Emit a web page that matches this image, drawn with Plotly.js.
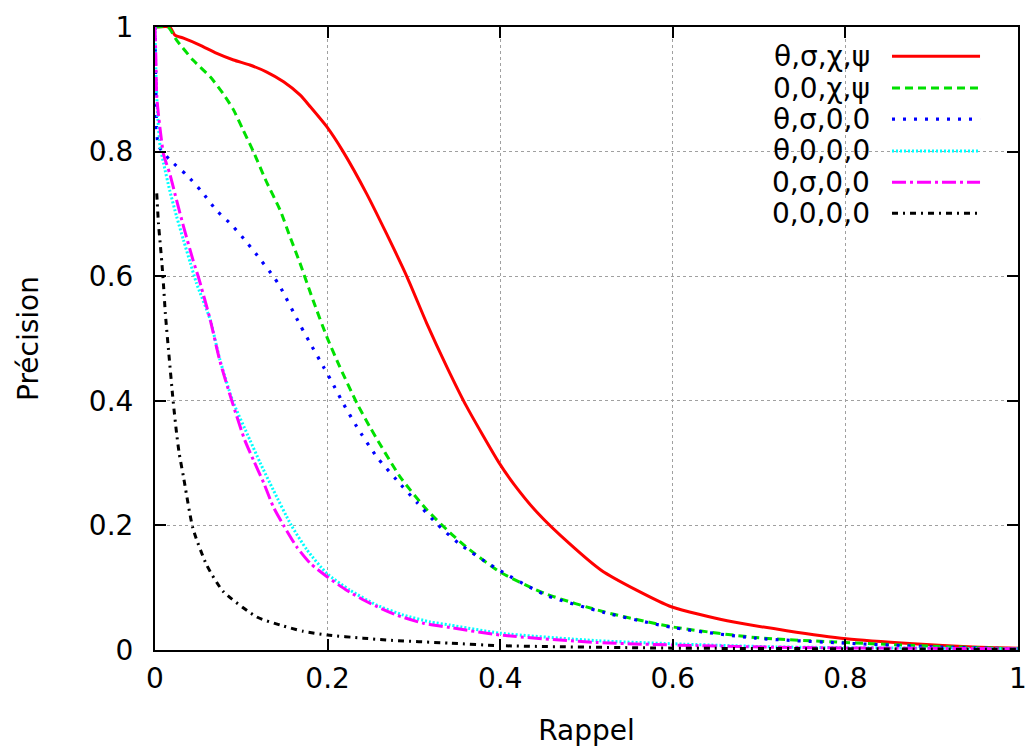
<!DOCTYPE html>
<html>
<head>
<meta charset="utf-8">
<script src="https://cdn.plot.ly/plotly-3.0.1.min.js"></script>
<style>html,body{margin:0;padding:0;background:#fff;}#chart{width:1035px;height:752px;}</style>
</head>
<body>
<div id="chart"></div>
<script>
// Series names (legend labels)
const seriesNames = ["θ,σ,χ,ψ", "0,0,χ,ψ", "θ,σ,0,0", "θ,0,0,0", "0,σ,0,0", "0,0,0,0"];

// θ,σ,χ,ψ (red, solid)
const redX = [0, 0.017, 0.023, 0.033, 0.052, 0.071, 0.091, 0.11, 0.129, 0.149, 0.168, 0.18, 0.199, 0.218, 0.245, 0.268, 0.292, 0.315, 0.338, 0.361, 0.398, 0.416, 0.444, 0.48, 0.517, 0.558, 0.599, 0.663, 0.732, 0.801, 0.879, 0.948, 1.0];
const redY = [1, 1, 0.987, 0.982, 0.971, 0.958, 0.947, 0.939, 0.928, 0.912, 0.891, 0.872, 0.84, 0.800, 0.733, 0.669, 0.599, 0.524, 0.455, 0.391, 0.302, 0.266, 0.219, 0.171, 0.128, 0.096, 0.069, 0.047, 0.031, 0.018, 0.01, 0.005, 0.003];

// 0,0,χ,ψ (green, dashed)
const greenX = [0, 0.015, 0.025, 0.044, 0.064, 0.079, 0.091, 0.102, 0.114, 0.129, 0.145, 0.156, 0.168, 0.183, 0.199, 0.214, 0.234, 0.249, 0.284, 0.315, 0.342, 0.361, 0.4, 0.453, 0.521, 0.6, 0.696, 0.8, 0.902, 1.0];
const greenY = [1, 1, 0.979, 0.947, 0.92, 0.893, 0.867, 0.835, 0.8, 0.752, 0.706, 0.665, 0.621, 0.562, 0.503, 0.455, 0.396, 0.358, 0.278, 0.225, 0.188, 0.165, 0.125, 0.09, 0.061, 0.037, 0.02, 0.012, 0.006, 0.002];

// θ,σ,0,0 (blue, dotted)
const blueX = [0, 0.001, 0.004, 0.017, 0.037, 0.054, 0.071, 0.089, 0.106, 0.122, 0.137, 0.145, 0.168, 0.182, 0.195, 0.207, 0.218, 0.234, 0.257, 0.28, 0.304, 0.327, 0.352, 0.393, 0.453, 0.521, 0.6, 0.696, 0.8, 0.902, 1.0];
const blueY = [1, 0.9, 0.81, 0.787, 0.762, 0.736, 0.706, 0.682, 0.655, 0.627, 0.6, 0.583, 0.522, 0.487, 0.455, 0.425, 0.396, 0.358, 0.31, 0.273, 0.236, 0.202, 0.171, 0.133, 0.088, 0.06, 0.036, 0.019, 0.011, 0.005, 0.002];

// θ,0,0,0 (cyan, fine dots)
const cyanX = [0, 0.001, 0.003, 0.006, 0.010, 0.017, 0.025, 0.033, 0.041, 0.048, 0.064, 0.075, 0.090, 0.110, 0.122, 0.137, 0.158, 0.176, 0.199, 0.226, 0.257, 0.288, 0.319, 0.342, 0.400, 0.512, 0.600, 0.720, 1.0];
const cyanY = [1, 0.93, 0.86, 0.808, 0.781, 0.738, 0.696, 0.658, 0.621, 0.589, 0.53, 0.467, 0.40, 0.337, 0.30, 0.257, 0.20, 0.161, 0.123, 0.096, 0.072, 0.056, 0.045, 0.04, 0.027, 0.015, 0.01, 0.005, 0.002];

// 0,σ,0,0 (magenta, dash-dot)
const magentaX = [0, 0.001, 0.002, 0.006, 0.010, 0.017, 0.025, 0.033, 0.044, 0.050, 0.064, 0.075, 0.089, 0.104, 0.114, 0.126, 0.137, 0.149, 0.164, 0.180, 0.199, 0.222, 0.249, 0.280, 0.311, 0.342, 0.400, 0.512, 0.600, 0.741, 1.0];
const magentaY = [1, 0.95, 0.888, 0.835, 0.795, 0.765, 0.722, 0.680, 0.626, 0.600, 0.530, 0.465, 0.400, 0.337, 0.305, 0.268, 0.230, 0.200, 0.166, 0.139, 0.118, 0.096, 0.075, 0.056, 0.043, 0.036, 0.024, 0.012, 0.008, 0.004, 0.002];

// 0,0,0,0 (black, dash-dot)
const blackX = [0.002, 0.004, 0.006, 0.008, 0.010, 0.012, 0.016, 0.021, 0.025, 0.028, 0.033, 0.044, 0.060, 0.079, 0.118, 0.145, 0.172, 0.200, 0.241, 0.268, 0.342, 0.400, 0.600, 0.800, 1.000];
const blackY = [0.733, 0.685, 0.653, 0.621, 0.583, 0.540, 0.476, 0.400, 0.348, 0.316, 0.278, 0.195, 0.136, 0.094, 0.053, 0.040, 0.030, 0.024, 0.019, 0.016, 0.011, 0.007, 0.003, 0.002, 0.001];

// Axis ticks
const tickVals = [0, 0.2, 0.4, 0.6, 0.8, 1];
const tickText = ["0", "0.2", "0.4", "0.6", "0.8", "1"];

const xs = [redX, greenX, blueX, cyanX, magentaX, blackX];
const ys = [redY, greenY, blueY, cyanY, magentaY, blackY];
const styles = [
  {color: "#ff0000", dash: "solid", width: 3},
  {color: "#00e000", dash: "8px,5px", width: 3},
  {color: "#0000ff", dash: "3px,8px", width: 3.2},
  {color: "#00ffff", dash: "2px,2px", width: 3},
  {color: "#ff00ff", dash: "14px,4px,3px,4px", width: 3},
  {color: "#000000", dash: "6px,5px,2px,5px", width: 3}
];

const FONT = "DejaVu Sans, sans-serif";
const traces = seriesNames.map((n, i) => ({
  type: "scatter", mode: "lines", name: n,
  x: xs[i], y: ys[i],
  line: {color: styles[i].color, dash: styles[i].dash, width: styles[i].width, shape: "spline", smoothing: 0.6},
  showlegend: false, hoverinfo: "skip"
}));

// Gnuplot-style key: text on the left, sample on the right
const rowY = [0.953, 0.902, 0.852, 0.801, 0.751, 0.701];
const annotations = seriesNames.map((n, i) => ({
  xref: "paper", yref: "paper", x: 0.831, y: rowY[i],
  xanchor: "right", yanchor: "middle", text: n, showarrow: false,
  font: {family: FONT, size: 28, color: "#000"}
}));
const shapes = [{
  type: "rect", xref: "paper", yref: "paper", x0: 0.676, x1: 1, y0: 0.671, y1: 1,
  fillcolor: "#ffffff", line: {width: 0}, layer: "between"
}].concat(seriesNames.map((n, i) => ({
  type: "line", xref: "paper", yref: "paper", x0: 0.854, x1: 0.956, y0: rowY[i], y1: rowY[i],
  line: {color: styles[i].color, dash: styles[i].dash, width: styles[i].width}
})));

const axisCommon = {
  range: [0, 1], tickvals: tickVals, ticktext: tickText,
  ticks: "inside", ticklen: 11, tickwidth: 2, tickcolor: "#000",
  showline: true, linecolor: "#000", linewidth: 2, mirror: "ticks",
  showgrid: true, gridcolor: "#a0a0a0", griddash: "dot", gridwidth: 1,
  zeroline: false, tickfont: {family: FONT, size: 28, color: "#000"}
};

const layout = {
  width: 1035, height: 752,
  margin: {l: 155, r: 17, t: 27, b: 102},
  paper_bgcolor: "#fff", plot_bgcolor: "#fff",
  font: {family: FONT, size: 28, color: "#000"},
  showlegend: false,
  xaxis: Object.assign({}, axisCommon, {
    title: {text: "Rappel", font: {family: FONT, size: 28}, standoff: 27},
    ticklabelstandoff: 2
  }),
  yaxis: Object.assign({}, axisCommon, {
    title: {text: "Précision", font: {family: FONT, size: 28}, standoff: 42},
    ticklabelstandoff: 14
  }),
  annotations: annotations,
  shapes: shapes
};

Plotly.newPlot("chart", traces, layout, {staticPlot: true, displayModeBar: false});
</script>
</body>
</html>
